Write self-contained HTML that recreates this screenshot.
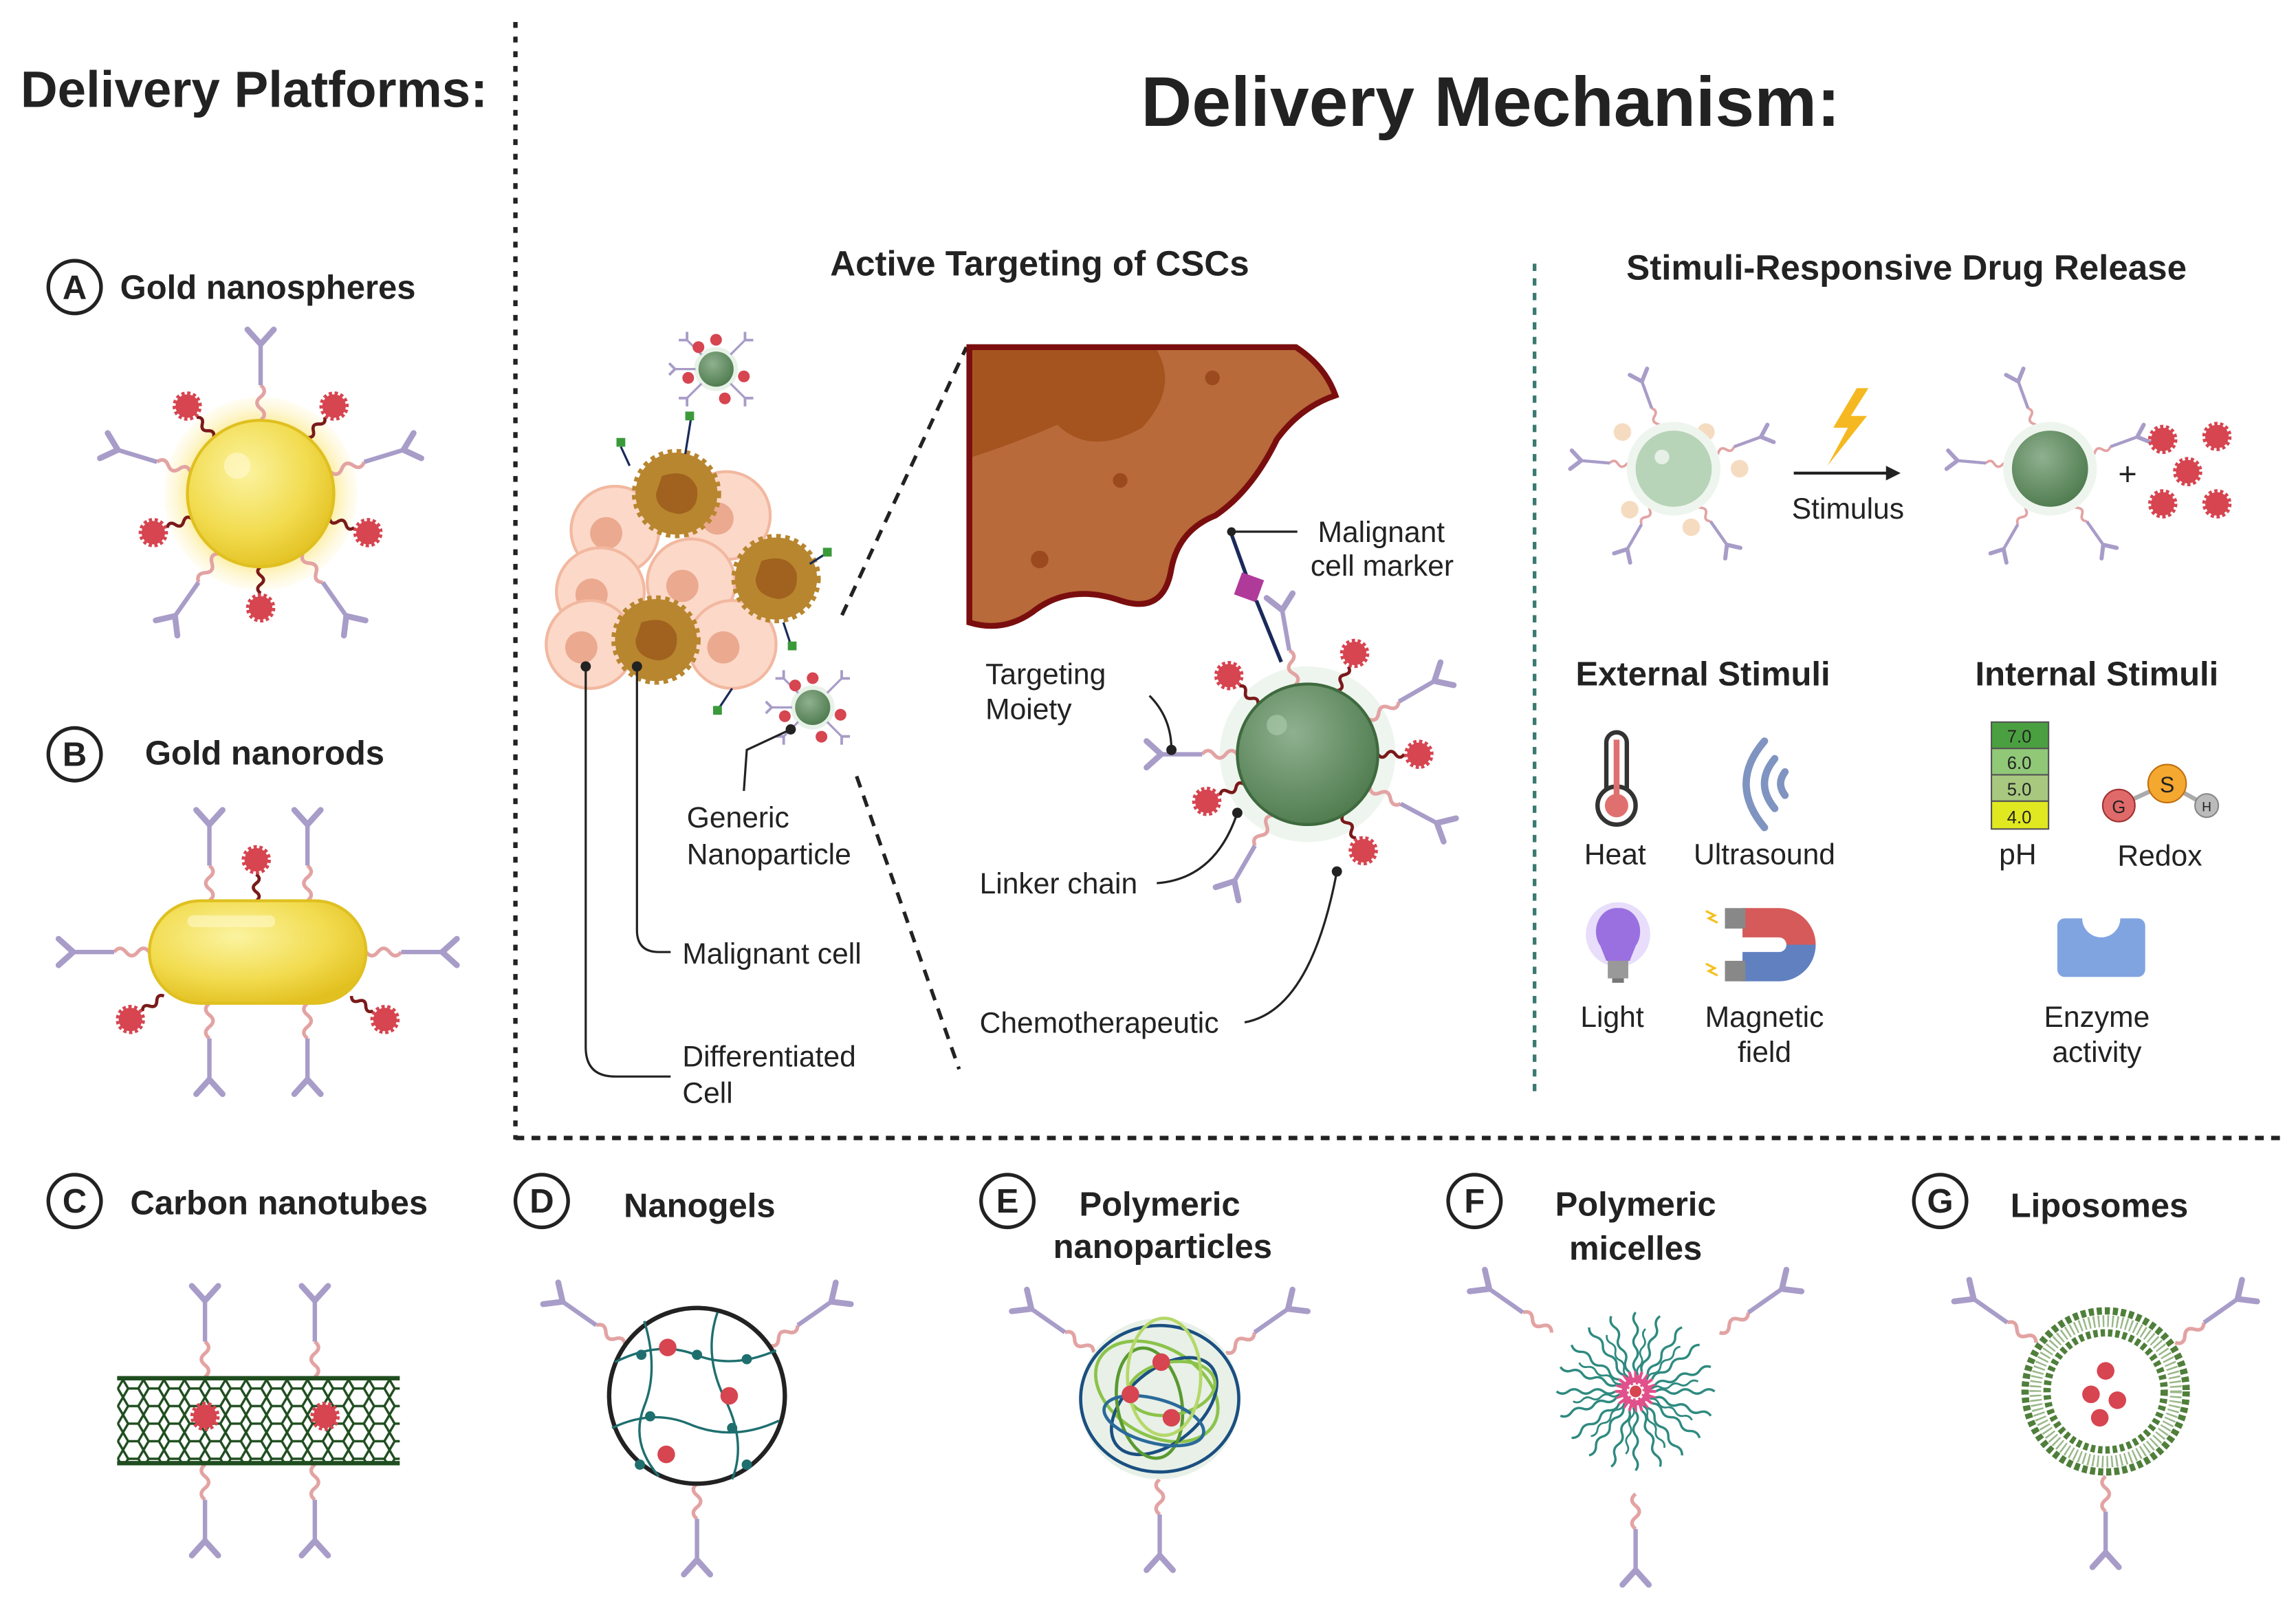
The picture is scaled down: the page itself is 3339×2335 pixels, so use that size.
<!DOCTYPE html>
<html><head><meta charset="utf-8"><style>
html,body{margin:0;padding:0;background:#fff}
svg{display:block}
text{font-family:"Liberation Sans",sans-serif;fill:#222}
.b{font-weight:bold}
.l{font-size:20px}
</style></head><body>
<svg width="3339" height="2335" viewBox="0 0 1568 1096.5" xmlns="http://www.w3.org/2000/svg">
<defs>
<radialGradient id="gold" cx="0.4" cy="0.35" r="0.7"><stop offset="0" stop-color="#fbf3a0"/><stop offset="0.6" stop-color="#f2dc50"/><stop offset="1" stop-color="#e2c020"/></radialGradient>
<radialGradient id="glow"><stop offset="0.7" stop-color="#fbe98a"/><stop offset="1" stop-color="#fff8d8" stop-opacity="0.3"/></radialGradient>
<radialGradient id="grn" cx="0.4" cy="0.35" r="0.7"><stop offset="0" stop-color="#8fb08f"/><stop offset="1" stop-color="#4d7a4d"/></radialGradient>
<g id="drug"><circle r="8" fill="#d64550" stroke="#d64550" stroke-width="4" stroke-dasharray="2 1.6"/></g>
<g id="ab"><path d="M0,0 q5,-4 0,-8 q-5,-4 0,-8 q5,-4 0,-8" fill="none" stroke="#e3a3a3" stroke-width="2.5"/><line x1="0" y1="-24" x2="0" y2="-52" stroke="#a89cc8" stroke-width="3"/><path d="M-9,-62 L0,-52 L9,-62" fill="none" stroke="#a89cc8" stroke-width="4" stroke-linecap="round"/></g>
<g id="dr"><path d="M0,0 q4,-3 0,-6 q-4,-3 0,-6 q4,-3 0,-6" fill="none" stroke="#7a1a1a" stroke-width="2.2"/><use href="#drug" y="-28"/></g>
<g id="sab"><line x1="0" y1="0" x2="0" y2="-14" stroke="#a89cc8" stroke-width="1.5"/><path d="M-4,-18 L0,-14 L4,-18" fill="none" stroke="#a89cc8" stroke-width="1.8"/></g>
<g id="sd"><circle r="4" fill="#d64550"/></g>
<pattern id="hex" width="14" height="12" patternUnits="userSpaceOnUse"><path d="M0,6 L3.5,0 L10.5,0 L14,6 L10.5,12 L3.5,12 Z" fill="none" stroke="#1f4d1f" stroke-width="1.6"/></pattern>
<g id="mw"><path d="M0,14 q3,4 0,8 q-3,4 0,8 q3,4 0,8 q-3,4 0,8 q3,4 0,8" fill="none" stroke="#2f8a80" stroke-width="1.6"/><line x1="0" y1="6" x2="0" y2="14" stroke="#e0508a" stroke-width="2"/></g>
<g id="np"><circle r="15" fill="#e8f2e8"/><circle r="12" fill="url(#grn)"/>
<use href="#sab" transform="rotate(-45) translate(0,-14)"/><use href="#sab" transform="rotate(45) translate(0,-14)"/><use href="#sab" transform="rotate(135) translate(0,-14)"/><use href="#sab" transform="rotate(-135) translate(0,-14)"/><use href="#sab" transform="rotate(-90) translate(0,-14)"/>
<use href="#sd" x="0" y="-20"/><use href="#sd" x="19" y="5"/><use href="#sd" x="-19" y="6"/><use href="#sd" x="6" y="20"/><use href="#sd" x="-12" y="-15"/></g>
<g id="cell"><circle r="30" fill="#fcd8c8" stroke="#f2b8a0" stroke-width="2"/><circle cx="-6" cy="2" r="11" fill="#eba98f"/></g>
<g id="mc"><circle r="28" fill="#b8862f" stroke="#b8862f" stroke-width="5" stroke-dasharray="3 3"/><path d="M-10,-12 Q8,-18 14,-4 Q16,12 2,14 Q-14,12 -14,0 Z" fill="#a0621e"/></g>
</defs>

<!-- dividers -->
<line x1="352" y1="15" x2="352" y2="778" stroke="#222" stroke-width="3" stroke-dasharray="4 6"/>
<line x1="352" y1="777" x2="1560" y2="777" stroke="#222" stroke-width="3" stroke-dasharray="6 5"/>
<line x1="1048" y1="180" x2="1048" y2="745" stroke="#3a7a70" stroke-width="2.5" stroke-dasharray="5 5"/>

<text x="14" y="73" class="b" font-size="35">Delivery Platforms:</text>
<text x="1018" y="86" class="b" font-size="48" text-anchor="middle">Delivery Mechanism:</text>
<text x="710" y="188" class="b" font-size="24" text-anchor="middle">Active Targeting of CSCs</text>
<text x="1302" y="191" class="b" font-size="24" text-anchor="middle">Stimuli-Responsive Drug Release</text>

<!-- labels with circles -->
<g font-size="23" class="b">
<circle cx="51" cy="196" r="18" fill="none" stroke="#222" stroke-width="2.5"/><text x="51" y="204" text-anchor="middle" class="b">A</text><text x="82" y="204" class="b">Gold nanospheres</text>
<circle cx="51" cy="515" r="18" fill="none" stroke="#222" stroke-width="2.5"/><text x="51" y="523" text-anchor="middle" class="b">B</text><text x="99" y="522" class="b">Gold nanorods</text>
<circle cx="51" cy="820" r="18" fill="none" stroke="#222" stroke-width="2.5"/><text x="51" y="828" text-anchor="middle" class="b">C</text><text x="89" y="829" class="b">Carbon nanotubes</text>
<circle cx="370" cy="820" r="18" fill="none" stroke="#222" stroke-width="2.5"/><text x="370" y="828" text-anchor="middle" class="b">D</text><text x="426" y="831" class="b">Nanogels</text>
<circle cx="688" cy="820" r="18" fill="none" stroke="#222" stroke-width="2.5"/><text x="688" y="828" text-anchor="middle" class="b">E</text><text x="792" y="830" text-anchor="middle" class="b">Polymeric</text><text x="794" y="859" text-anchor="middle" class="b">nanoparticles</text>
<circle cx="1007" cy="820" r="18" fill="none" stroke="#222" stroke-width="2.5"/><text x="1007" y="828" text-anchor="middle" class="b">F</text><text x="1117" y="830" text-anchor="middle" class="b">Polymeric</text><text x="1117" y="860" text-anchor="middle" class="b">micelles</text>
<circle cx="1325" cy="820" r="18" fill="none" stroke="#222" stroke-width="2.5"/><text x="1325" y="828" text-anchor="middle" class="b">G</text><text x="1373" y="831" class="b">Liposomes</text>
</g>

<!-- A gold nanosphere -->
<circle cx="178" cy="337" r="66" fill="url(#glow)"/>
<g transform="translate(178,337)">
<use href="#ab" transform="rotate(0) translate(0,-50)"/><use href="#ab" transform="rotate(73) translate(0,-50)"/><use href="#ab" transform="rotate(-73) translate(0,-50)"/><use href="#ab" transform="rotate(145) translate(0,-50)"/><use href="#ab" transform="rotate(-145) translate(0,-50)"/>
<use href="#dr" transform="rotate(-40) translate(0,-50)"/><use href="#dr" transform="rotate(40) translate(0,-50)"/><use href="#dr" transform="rotate(-110) translate(0,-50)"/><use href="#dr" transform="rotate(110) translate(0,-50)"/><use href="#dr" transform="rotate(180) translate(0,-50)"/>
</g>
<circle cx="178" cy="337" r="50" fill="url(#gold)" stroke="#e0c020" stroke-width="2"/>
<circle cx="162" cy="318" r="9" fill="#fff8c8" opacity="0.7"/>

<!-- B nanorod -->
<use href="#ab" transform="translate(143,615)"/><use href="#ab" transform="translate(210,615)"/>
<use href="#ab" transform="translate(143,685) rotate(180)"/><use href="#ab" transform="translate(210,685) rotate(180)"/>
<use href="#ab" transform="translate(102,650) rotate(-90)"/><use href="#ab" transform="translate(250,650) rotate(90)"/>
<use href="#dr" transform="translate(175,615)"/><use href="#dr" transform="translate(112,680) rotate(-125)"/><use href="#dr" transform="translate(240,680) rotate(125)"/>
<rect x="102" y="615" width="148" height="70" rx="35" fill="url(#gold)" stroke="#e0c020" stroke-width="2"/>
<rect x="128" y="625" width="60" height="8" rx="4" fill="#fff8c8" opacity="0.6"/>

<!-- C nanotube -->
<use href="#ab" transform="translate(140,940)"/><use href="#ab" transform="translate(215,940)"/>
<use href="#ab" transform="translate(140,1000) rotate(180)"/><use href="#ab" transform="translate(215,1000) rotate(180)"/>
<rect x="80" y="940" width="193" height="60" fill="url(#hex)"/>
<line x1="80" y1="941" x2="273" y2="941" stroke="#1f4d1f" stroke-width="3"/><line x1="80" y1="999" x2="273" y2="999" stroke="#1f4d1f" stroke-width="3"/>
<use href="#drug" x="140" y="967"/><use href="#drug" x="222" y="967"/>

<!-- D nanogel -->
<g transform="translate(476,953)"><use href="#ab" transform="rotate(-55) translate(0,-60)"/><use href="#ab" transform="rotate(55) translate(0,-60)"/><use href="#ab" transform="rotate(180) translate(0,-60)"/></g>
<circle cx="476" cy="953" r="60" fill="#fff" stroke="#222" stroke-width="3"/>
<g stroke="#1f6f6f" stroke-width="1.6" fill="none">
<path d="M420,930 Q450,915 475,925 Q500,935 530,922"/><path d="M418,975 Q445,962 470,972 Q500,985 532,970"/>
<path d="M440,902 Q450,935 440,960 Q430,985 450,1008"/><path d="M490,896 Q480,925 495,955 Q510,985 500,1010"/>
</g>
<g fill="#1f6f6f"><circle cx="438" cy="925" r="3.5"/><circle cx="476" cy="925" r="3.5"/><circle cx="510" cy="928" r="3.5"/><circle cx="444" cy="967" r="3.5"/><circle cx="500" cy="975" r="3.5"/><circle cx="437" cy="1000" r="3.5"/><circle cx="510" cy="1000" r="3.5"/></g>
<g fill="#d64550"><circle cx="456" cy="920" r="6"/><circle cx="498" cy="953" r="6"/><circle cx="455" cy="993" r="6"/></g>

<!-- E polymeric NP -->
<g transform="translate(792,955)"><use href="#ab" transform="rotate(-55) translate(0,-55)"/><use href="#ab" transform="rotate(55) translate(0,-55)"/><use href="#ab" transform="rotate(180) translate(0,-55)"/></g>
<circle cx="792" cy="955" r="55" fill="#e8f0e8"/>
<g fill="none" stroke-width="2.2">
<ellipse cx="792" cy="955" rx="54" ry="50" stroke="#1a4f80"/>
<ellipse cx="790" cy="950" rx="45" ry="30" stroke="#8bc34a" transform="rotate(30 790 950)"/>
<ellipse cx="795" cy="960" rx="42" ry="25" stroke="#1a4f80" transform="rotate(-40 795 960)"/>
<ellipse cx="785" cy="958" rx="38" ry="22" stroke="#5a9a30" transform="rotate(80 785 958)"/>
<ellipse cx="800" cy="948" rx="30" ry="18" stroke="#8bc34a" transform="rotate(-10 800 948)"/>
<ellipse cx="788" cy="970" rx="35" ry="15" stroke="#2a6a9a" transform="rotate(15 788 970)"/>
<ellipse cx="795" cy="940" rx="25" ry="40" stroke="#b5d86a"/>
</g>
<g fill="#d64550"><circle cx="793" cy="930" r="6"/><circle cx="772" cy="952" r="6"/><circle cx="800" cy="968" r="6"/></g>

<!-- F micelle -->
<g transform="translate(1117,950)"><use href="#ab" transform="rotate(-55) translate(0,-70)"/><use href="#ab" transform="rotate(55) translate(0,-70)"/><use href="#ab" transform="rotate(180) translate(0,-70)"/>
<use href="#mw" transform="rotate(0)"/><use href="#mw" transform="rotate(18)"/><use href="#mw" transform="rotate(36)"/><use href="#mw" transform="rotate(54)"/><use href="#mw" transform="rotate(72)"/><use href="#mw" transform="rotate(90)"/><use href="#mw" transform="rotate(108)"/><use href="#mw" transform="rotate(126)"/><use href="#mw" transform="rotate(144)"/><use href="#mw" transform="rotate(162)"/><use href="#mw" transform="rotate(180)"/><use href="#mw" transform="rotate(198)"/><use href="#mw" transform="rotate(216)"/><use href="#mw" transform="rotate(234)"/><use href="#mw" transform="rotate(252)"/><use href="#mw" transform="rotate(270)"/><use href="#mw" transform="rotate(288)"/><use href="#mw" transform="rotate(306)"/><use href="#mw" transform="rotate(324)"/><use href="#mw" transform="rotate(342)"/>
<use href="#mw" transform="rotate(9) scale(0.8)"/><use href="#mw" transform="rotate(45) scale(0.8)"/><use href="#mw" transform="rotate(81) scale(0.8)"/><use href="#mw" transform="rotate(117) scale(0.8)"/><use href="#mw" transform="rotate(153) scale(0.8)"/><use href="#mw" transform="rotate(189) scale(0.8)"/><use href="#mw" transform="rotate(225) scale(0.8)"/><use href="#mw" transform="rotate(261) scale(0.8)"/><use href="#mw" transform="rotate(297) scale(0.8)"/><use href="#mw" transform="rotate(333) scale(0.8)"/>
<circle r="8" fill="none" stroke="#e0508a" stroke-width="3"/><circle r="4" fill="#d64550"/></g>

<!-- G liposome -->
<g transform="translate(1438,950)"><use href="#ab" transform="rotate(-55) translate(0,-58)"/><use href="#ab" transform="rotate(55) translate(0,-58)"/><use href="#ab" transform="rotate(180) translate(0,-58)"/></g>
<circle cx="1438" cy="950" r="55" fill="#fff" stroke="#4f7f3a" stroke-width="5" stroke-dasharray="3.5 2"/>
<circle cx="1438" cy="950" r="48" fill="none" stroke="#9ab88a" stroke-width="8" stroke-dasharray="1.2 2"/>
<circle cx="1438" cy="950" r="40" fill="#fff" stroke="#4f7f3a" stroke-width="5" stroke-dasharray="3 2"/>
<g fill="#d64550"><circle cx="1438" cy="936" r="6"/><circle cx="1428" cy="952" r="6"/><circle cx="1446" cy="956" r="6"/><circle cx="1434" cy="968" r="6"/></g>

<!-- Active targeting: cell cluster -->
<use href="#cell" x="420" y="362"/><use href="#cell" x="496" y="352"/><use href="#cell" x="472" y="398"/><use href="#cell" x="410" y="404"/><use href="#cell" x="403" y="440"/><use href="#cell" x="500" y="440"/>
<use href="#mc" x="462" y="337"/><use href="#mc" x="530" y="395"/><use href="#mc" x="448" y="437"/>
<g stroke="#1a2a5a" stroke-width="1.5"><line x1="468" y1="310" x2="472" y2="285"/><line x1="430" y1="318" x2="424" y2="305"/><line x1="553" y1="385" x2="564" y2="378"/><line x1="535" y1="425" x2="540" y2="440"/><line x1="500" y1="470" x2="490" y2="485"/></g>
<g fill="#3a9a3a"><rect x="468" y="281" width="6" height="6"/><rect x="421" y="299" width="6" height="6"/><rect x="562" y="374" width="6" height="6"/><rect x="538" y="438" width="6" height="6"/><rect x="487" y="482" width="6" height="6"/></g>
<use href="#np" x="489" y="252"/><use href="#np" x="555" y="483"/>
<g fill="none" stroke="#222" stroke-width="1.5">
<path d="M400,455 L400,715 Q400,735 420,735 L458,735"/>
<path d="M435,455 L435,635 Q435,650 450,650 L458,650"/>
<path d="M540,498 L510,512 L508,540"/>
</g>
<circle cx="400" cy="455" r="3.5" fill="#222"/><circle cx="435" cy="455" r="3.5" fill="#222"/><circle cx="540" cy="498" r="3.5" fill="#222"/>
<line x1="575" y1="420" x2="660" y2="237" stroke="#222" stroke-width="2.5" stroke-dasharray="8 6"/>
<line x1="585" y1="530" x2="655" y2="730" stroke="#222" stroke-width="2.5" stroke-dasharray="8 6"/>
<g class="l" font-size="20">
<text x="469" y="565">Generic</text><text x="469" y="590">Nanoparticle</text>
<text x="466" y="658">Malignant cell</text>
<text x="466" y="728">Differentiated</text><text x="466" y="753">Cell</text>
</g>

<!-- zoomed cell -->
<path d="M662,237 L885,237 Q905,250 912,270 Q888,278 872,300 Q855,335 830,352 Q805,362 800,388 Q795,420 765,410 Q730,398 705,418 Q685,432 662,425 Z" fill="#b86a3a" stroke="#7a0e0e" stroke-width="4"/>
<path d="M664,239 L790,239 Q805,265 780,292 Q745,312 722,290 Q695,302 664,312 Z" fill="#a5541f"/>
<g fill="#9a4a1e"><circle cx="828" cy="258" r="5"/><circle cx="765" cy="328" r="5"/><circle cx="710" cy="382" r="6"/></g>
<line x1="840" y1="362" x2="853" y2="398" stroke="#1a2a5a" stroke-width="2.5"/><circle cx="841" cy="363" r="3" fill="#222"/>
<rect x="845" y="393" width="16" height="16" fill="#b03a9a" transform="rotate(20 853 401)"/>
<line x1="858" y1="410" x2="875" y2="452" stroke="#1a2a5a" stroke-width="2.5"/>
<line x1="843" y1="363" x2="886" y2="363" stroke="#222" stroke-width="1.5"/>
<text x="900" y="370" class="l">Malignant</text><text x="895" y="393" class="l">cell marker</text>

<circle cx="893" cy="515" r="60" fill="#eef5ee"/>
<g transform="translate(893,515)">
<use href="#ab" transform="rotate(-10) translate(0,-48)"/><use href="#ab" transform="rotate(60) translate(0,-48)"/><use href="#ab" transform="rotate(-90) translate(0,-48)"/><use href="#ab" transform="rotate(118) translate(0,-48)"/><use href="#ab" transform="rotate(-150) translate(0,-48)"/>
<use href="#dr" transform="rotate(25) translate(0,-48)"/><use href="#dr" transform="rotate(-45) translate(0,-48)"/><use href="#dr" transform="rotate(90) translate(0,-48)"/><use href="#dr" transform="rotate(150) translate(0,-48)"/><use href="#dr" transform="rotate(-115) translate(0,-48)"/>
</g>
<circle cx="893" cy="515" r="48" fill="url(#grn)" stroke="#3f6a3f" stroke-width="2"/>
<circle cx="872" cy="495" r="7" fill="#a8c8a8" opacity="0.7"/>
<g fill="none" stroke="#222" stroke-width="1.5">
<path d="M785,475 Q800,490 800,512"/>
<path d="M845,555 Q830,600 790,603"/>
<path d="M913,595 Q895,690 850,698"/>
</g>
<circle cx="800" cy="512" r="3.5" fill="#222"/><circle cx="845" cy="555" r="3.5" fill="#222"/><circle cx="913" cy="595" r="3.5" fill="#222"/>
<text x="673" y="467" class="l">Targeting</text><text x="673" y="491" class="l">Moiety</text>
<text x="669" y="610" class="l">Linker chain</text>
<text x="669" y="705" class="l">Chemotherapeutic</text>

<!-- Stimuli release -->
<g transform="translate(1143,320)">
<use href="#ab" transform="rotate(-20) translate(0,-27) scale(0.7)"/><use href="#ab" transform="rotate(70) translate(0,-27) scale(0.7)"/><use href="#ab" transform="rotate(-85) translate(0,-27) scale(0.7)"/><use href="#ab" transform="rotate(145) translate(0,-27) scale(0.7)"/><use href="#ab" transform="rotate(-150) translate(0,-27) scale(0.7)"/>
<g fill="#f5dcc0"><circle cx="22" cy="-25" r="6"/><circle cx="-35" cy="-25" r="6"/><circle cx="45" cy="0" r="6"/><circle cx="-30" cy="28" r="6"/><circle cx="12" cy="40" r="6"/></g>
<circle r="32" fill="#eef5ee"/><circle r="26" fill="#b8d4b8"/><circle cx="-8" cy="-8" r="5" fill="#e6f0e6"/></g>
<polygon points="1268,265 1252,292 1262,292 1248,318 1275,284 1264,284 1276,265" fill="#f5b820"/>
<line x1="1225" y1="323" x2="1290" y2="323" stroke="#222" stroke-width="2"/><polygon points="1298,323 1288,318 1288,328" fill="#222"/>
<text x="1262" y="354" class="l" text-anchor="middle">Stimulus</text>
<g transform="translate(1400,320)">
<use href="#ab" transform="rotate(-20) translate(0,-27) scale(0.7)"/><use href="#ab" transform="rotate(70) translate(0,-27) scale(0.7)"/><use href="#ab" transform="rotate(-85) translate(0,-27) scale(0.7)"/><use href="#ab" transform="rotate(145) translate(0,-27) scale(0.7)"/><use href="#ab" transform="rotate(-150) translate(0,-27) scale(0.7)"/>
<circle r="32" fill="#eef5ee"/><circle r="26" fill="url(#grn)"/></g>
<text x="1453" y="331" font-size="22" text-anchor="middle">+</text>
<use href="#drug" x="1477" y="300" transform="scale(1)"/><use href="#drug" x="1514" y="298"/><use href="#drug" x="1494" y="322"/><use href="#drug" x="1477" y="344"/><use href="#drug" x="1514" y="344"/>

<text x="1163" y="468" class="b" font-size="23" text-anchor="middle">External Stimuli</text>
<text x="1432" y="468" class="b" font-size="23" text-anchor="middle">Internal Stimuli</text>

<!-- thermometer -->
<rect x="1097" y="500" width="14" height="48" rx="7" fill="#fff" stroke="#333" stroke-width="3"/>
<circle cx="1104" cy="550" r="13" fill="#fff" stroke="#333" stroke-width="3"/>
<rect x="1102" y="505" width="4" height="42" fill="#e07070"/><circle cx="1104" cy="550" r="8" fill="#e07070"/>
<!-- ultrasound -->
<g fill="none" stroke="#7f94c0" stroke-width="5" stroke-linecap="round">
<path d="M1205,506 Q1180,535 1205,565"/><path d="M1212,518 Q1198,535 1212,552"/><path d="M1219,527 Q1213,535 1219,543"/></g>
<text x="1103" y="590" class="l" text-anchor="middle">Heat</text><text x="1205" y="590" class="l" text-anchor="middle">Ultrasound</text>
<!-- bulb -->
<circle cx="1105" cy="638" r="22" fill="#d8c8f8" opacity="0.6"/>
<path d="M1105,620 a14,16 0 0 1 12,26 l-4,10 h-16 l-4,-10 a14,16 0 0 1 12,-26z" fill="#9a70e0"/>
<rect x="1098" y="656" width="14" height="12" fill="#999"/><rect x="1101" y="668" width="8" height="3" fill="#777"/>
<!-- magnet -->
<path d="M1190,620 h25 a25,25 0 0 1 25,25 h-20 a5,5 0 0 0 -5,-5 h-25z" fill="#d65a5a"/>
<path d="M1190,670 h25 a25,25 0 0 0 25,-25 h-20 a5,5 0 0 1 -5,5 h-25z" fill="#6080c0"/>
<rect x="1178" y="620" width="14" height="14" fill="#888"/><rect x="1178" y="656" width="14" height="14" fill="#888"/>
<g stroke="#f5c020" stroke-width="1.5"><path d="M1165,622 l6,3 -4,2 6,3" fill="none"/><path d="M1165,658 l6,3 -4,2 6,3" fill="none"/></g>
<text x="1101" y="701" class="l" text-anchor="middle">Light</text>
<text x="1205" y="701" class="l" text-anchor="middle">Magnetic</text><text x="1205" y="725" class="l" text-anchor="middle">field</text>
<!-- pH -->
<g stroke="#555" stroke-width="1">
<rect x="1360" y="493" width="39" height="18" fill="#4aa040"/><rect x="1360" y="511" width="39" height="18" fill="#90c878"/><rect x="1360" y="529" width="39" height="18" fill="#a8c880"/><rect x="1360" y="547" width="39" height="19" fill="#e0e820"/></g>
<g font-size="12" text-anchor="middle"><text x="1379" y="507">7.0</text><text x="1379" y="525">6.0</text><text x="1379" y="543">5.0</text><text x="1379" y="562">4.0</text></g>
<text x="1378" y="590" class="l" text-anchor="middle">pH</text>
<!-- GSH -->
<line x1="1447" y1="550" x2="1480" y2="535" stroke="#aaa" stroke-width="3"/><line x1="1480" y1="535" x2="1507" y2="550" stroke="#aaa" stroke-width="3"/>
<circle cx="1447" cy="550" r="11" fill="#e06a6a" stroke="#a03030"/><circle cx="1480" cy="535" r="13" fill="#f5a830" stroke="#c07010"/><circle cx="1507" cy="550" r="8" fill="#bbb" stroke="#888"/>
<text x="1447" y="555" font-size="12" text-anchor="middle">G</text><text x="1480" y="541" font-size="15" text-anchor="middle">S</text><text x="1507" y="554" font-size="9" text-anchor="middle">H</text>
<text x="1475" y="591" class="l" text-anchor="middle">Redox</text>
<!-- enzyme -->
<path d="M1410,627 h12 a13,13 0 0 0 26,0 h12 a5,5 0 0 1 5,5 v30 a5,5 0 0 1 -5,5 h-50 a5,5 0 0 1 -5,-5 v-30 a5,5 0 0 1 5,-5z" fill="#80a4e0"/>
<text x="1432" y="701" class="l" text-anchor="middle">Enzyme</text><text x="1432" y="725" class="l" text-anchor="middle">activity</text>
</svg>
</body></html>
